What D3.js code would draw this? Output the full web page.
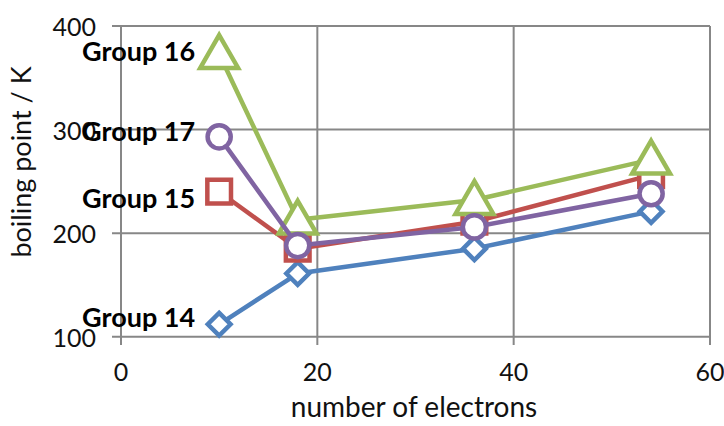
<!DOCTYPE html>
<html>
<head>
<meta charset="utf-8">
<script src="https://cdn.jsdelivr.net/npm/d3@7"></script>
<style>
  body { margin: 0; background: #fff; }
  svg { display: block; font-family: Lato, "Open Sans", sans-serif; }
</style>
</head>
<body>
<svg id="chart" width="724" height="426"></svg>
<script>
// data
let electrons = [10, 18, 36, 54];
let groupNames = ["Group 14", "Group 15", "Group 16", "Group 17"];
let group14 = [112, 161, 185, 221];
let group15 = [240, 185, 211, 256];
let group16 = [373, 213, 232, 271];
let group17 = [293, 188, 206, 238];
let xTicks = [0, 20, 40, 60];
let yTicks = [100, 200, 300, 400];

let colors = ["#4f81bd", "#c0504d", "#9bbb59", "#8064a2"];
let markers = [d3.symbolDiamond2, d3.symbolSquare, d3.symbolTriangle, d3.symbolCircle];
let markerSizes = [330, 560, 620, 420];
// small vertical nudges of the name labels, as in the reference
let labelNudge = [-8, 6, -3, -6];

let series = [group14, group15, group16, group17].map(function (vals, i) {
    return {
        name: groupNames[i],
        nudge: labelNudge[i],
        points: vals.map(function (v, j) { return {x: electrons[j], y: v}; })
    };
});

let svg = d3.select("#chart");

let xScale = d3.scaleLinear().domain([0, 60]).range([121, 710]);
let yScale = d3.scaleLinear().domain([100, 400]).range([336.7, 26]);

// gridlines
let grid = svg.append("g").attr("stroke", "#878787").attr("stroke-width", 2);
grid.selectAll(".hg").data(yTicks).enter().append("line")
    .attr("x1", 112).attr("x2", 710)
    .attr("y1", d => yScale(d)).attr("y2", d => yScale(d));
grid.selectAll(".vg").data(xTicks).enter().append("line")
    .attr("y1", 26).attr("y2", 345)
    .attr("x1", d => xScale(d)).attr("x2", d => xScale(d));

// tick labels
svg.append("g").selectAll("text").data(yTicks).enter().append("text")
    .attr("x", 96).attr("y", d => yScale(d))
    .attr("text-anchor", "end").attr("dominant-baseline", "central")
    .attr("font-size", 25).attr("fill", "#111")
    .text(d => d);
svg.append("g").selectAll("text").data(xTicks).enter().append("text")
    .attr("x", d => xScale(d)).attr("y", 381)
    .attr("text-anchor", "middle")
    .attr("font-size", 25).attr("fill", "#111")
    .text(d => d);

// axis titles
svg.append("text")
    .attr("x", 414).attr("y", 417)
    .attr("text-anchor", "middle").attr("font-size", 28).attr("fill", "#111")
    .text("number of electrons");
svg.append("text")
    .attr("transform", "translate(31,162) rotate(-90)")
    .attr("text-anchor", "middle").attr("font-size", 27).attr("fill", "#111")
    .text("boiling point / K");

// series
let line = d3.line().x(d => xScale(d.x)).y(d => yScale(d.y));

series.forEach(function (s, i) {
    let g = svg.append("g");
    g.append("path")
        .attr("d", line(s.points))
        .attr("fill", "none")
        .attr("stroke", colors[i])
        .attr("stroke-width", 4.5)
        .attr("stroke-linejoin", "round");
    g.selectAll("path.m").data(s.points).enter().append("path")
        .attr("class", "m")
        .attr("d", d3.symbol().type(markers[i]).size(markerSizes[i]))
        .attr("transform", function (d) {
            let dy = i == 2 ? 3 : 0;
            return "translate(" + xScale(d.x) + "," + (yScale(d.y) + dy) + ")";
        })
        .attr("fill", "#fff")
        .attr("stroke", colors[i])
        .attr("stroke-width", 4.5);
});

// series name labels next to first point
svg.append("g").selectAll("text").data(series).enter().append("text")
    .attr("x", d => xScale(d.points[0].x) - 24)
    .attr("y", d => yScale(d.points[0].y) + d.nudge)
    .attr("text-anchor", "end").attr("dominant-baseline", "central")
    .attr("font-size", 27).attr("font-weight", "bold").attr("fill", "#000")
    .text(d => d.name);
</script>
</body>
</html>
